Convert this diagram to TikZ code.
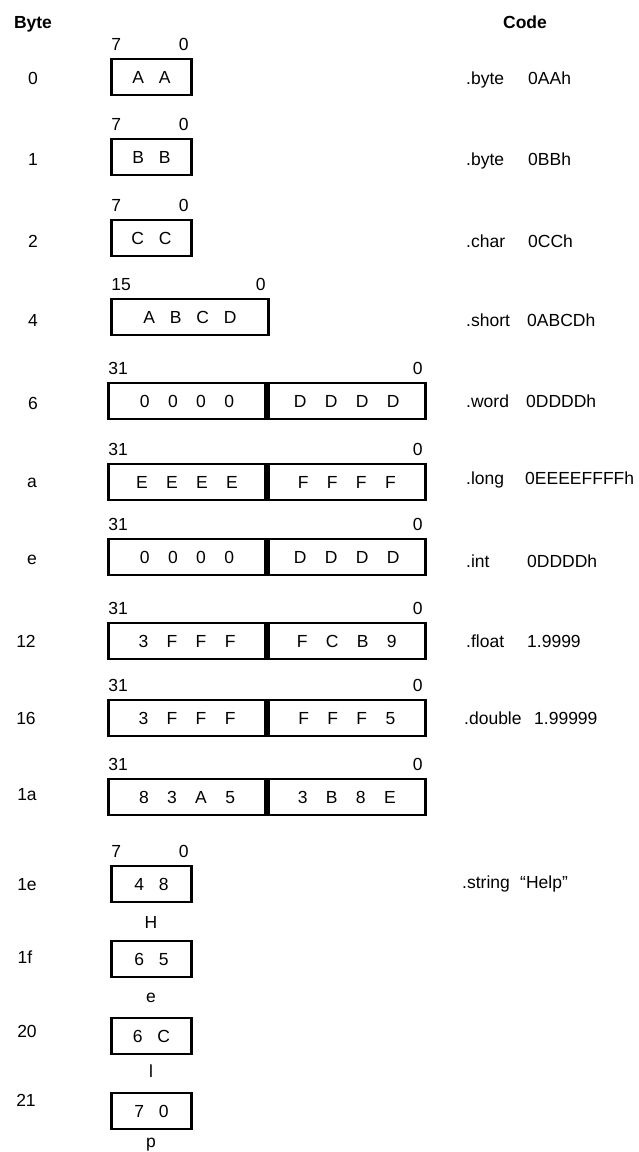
\documentclass[tikz,border=0pt]{standalone}
\usepackage{fontspec}
\setmainfont{Liberation Sans}
\usetikzlibrary{positioning}
\newcommand\hexgap{\hspace{0.85em}}
\newcommand\widegap{\hspace{1.05em}}
\tikzset{
	txt/.style={inner sep=0pt, text height=12.5pt, text depth=0pt,
			font=\fontsize{17.5}{20}\selectfont},
	cell/.style={txt, draw, line width=2.8pt, minimum height=36pt},
	bytecell/.style={cell, minimum width=80pt},
	shortcell/.style={cell, minimum width=157pt},
	halfcell/.style={cell, minimum width=157pt},
	hibit/.style={txt, anchor=south west, xshift=1pt, yshift=6.5pt},
	lobit/.style={txt, anchor=south east, xshift=-4pt, yshift=6.5pt},
	addr/.style={txt},
	dir/.style={txt, anchor=west},
	charlbl/.style={txt, anchor=base},
}

\begin{document}
\begin{tikzpicture}[x=1pt, y=-1pt]
		\useasboundingbox (0,0) rectangle (639,1152);
		\node[txt, font=\fontsize{17.5}{20}\selectfont\bfseries] (bytehead) at (33,22) {Byte};
		\node[txt, font=\fontsize{17.5}{20}\selectfont\bfseries] (codehead) at (525,22) {Code};

		\node[bytecell] (b0) at (151.5,77) {A\hexgap A};
		\node[hibit] (b0hi) at (b0.north west) {7};
		\node[lobit] (b0lo) at (b0.north east) {0};
		\node[addr] (a0) at (33,78) {0};
		\node[dir] (d0) at (466,78) {.byte};
		\node[dir] (v0) at (528,78) {0AAh};

		\node[bytecell] (b1) at (151.5,157) {B\hexgap B};
		\node[hibit] (b1hi) at (b1.north west) {7};
		\node[lobit] (b1lo) at (b1.north east) {0};
		\node[addr] (a1) at (33,159) {1};
		\node[dir] (d1) at (466,159) {.byte};
		\node[dir] (v1) at (528,159) {0BBh};

		\node[bytecell] (b2) at (151.5,238) {C\hexgap C};
		\node[hibit] (b2hi) at (b2.north west) {7};
		\node[lobit] (b2lo) at (b2.north east) {0};
		\node[addr] (a2) at (33,241) {2};
		\node[dir] (d2) at (466,241) {.char};
		\node[dir] (v2) at (528,241) {0CCh};

		\node[shortcell] (b4) at (190,317) {A\hexgap B\hexgap C\hexgap D};
		\node[hibit] (b4hi) at (b4.north west) {15};
		\node[lobit] (b4lo) at (b4.north east) {0};
		\node[addr] (a4) at (33,320) {4};
		\node[dir] (d4) at (466,320) {.short};
		\node[dir] (v4) at (527,320) {0ABCDh};

		\node[halfcell] (w6l) at (187,401) {0\widegap 0\widegap 0\widegap 0};
		\node[halfcell, anchor=west] (w6r) at (w6l.east) {D\widegap D\widegap D\widegap D};
		\node[hibit] (w6hi) at (w6l.north west) {31};
		\node[lobit] (w6lo) at (w6r.north east) {0};
		\node[addr] (a6) at (33,403) {6};
		\node[dir] (d6) at (466,401) {.word};
		\node[dir] (v6) at (526,401) {0DDDDh};

		\node[halfcell] (wal) at (187,482) {E\widegap E\widegap E\widegap E};
		\node[halfcell, anchor=west] (war) at (wal.east) {F\widegap F\widegap F\widegap F};
		\node[hibit] (wahi) at (wal.north west) {31};
		\node[lobit] (walo) at (war.north east) {0};
		\node[addr] (aa) at (32,481) {a};
		\node[dir] (da) at (466,478) {.long};
		\node[dir] (va) at (525,478) {0EEEEFFFFh};

		\node[halfcell] (wel) at (187,557) {0\widegap 0\widegap 0\widegap 0};
		\node[halfcell, anchor=west] (wer) at (wel.east) {D\widegap D\widegap D\widegap D};
		\node[hibit] (wehi) at (wel.north west) {31};
		\node[lobit] (welo) at (wer.north east) {0};
		\node[addr] (ae) at (32,558) {e};
		\node[dir] (de) at (466,561) {.int};
		\node[dir] (ve) at (527,561) {0DDDDh};

		\node[halfcell] (w12l) at (187,641) {3\widegap F\widegap F\widegap F};
		\node[halfcell, anchor=west] (w12r) at (w12l.east) {F\widegap C\widegap B\widegap 9};
		\node[hibit] (w12hi) at (w12l.north west) {31};
		\node[lobit] (w12lo) at (w12r.north east) {0};
		\node[addr] (a12) at (26,641) {12};
		\node[dir] (d12) at (466,641) {.float};
		\node[dir] (v12) at (527,641) {1.9999};

		\node[halfcell] (w16l) at (187,718) {3\widegap F\widegap F\widegap F};
		\node[halfcell, anchor=west] (w16r) at (w16l.east) {F\widegap F\widegap F\widegap 5};
		\node[hibit] (w16hi) at (w16l.north west) {31};
		\node[lobit] (w16lo) at (w16r.north east) {0};
		\node[addr] (a16) at (26,718) {16};
		\node[dir] (d16) at (464,718) {.double};
		\node[dir] (v16) at (534,718) {1.99999};

		\node[halfcell] (w1al) at (187,797) {8\widegap 3\widegap A\widegap 5};
		\node[halfcell, anchor=west] (w1ar) at (w1al.east) {3\widegap B\widegap 8\widegap E};
		\node[hibit] (w1ahi) at (w1al.north west) {31};
		\node[lobit] (w1alo) at (w1ar.north east) {0};
		\node[addr] (a1a) at (27,794) {1a};

		\node[bytecell] (s1e) at (151.5,884) {4\hexgap 8};
		\node[hibit] (s1ehi) at (s1e.north west) {7};
		\node[lobit] (s1elo) at (s1e.north east) {0};
		\node[charlbl] (c1e) at (151,928) {H};
		\node[addr] (a1e) at (27,884) {1e};
		\node[dir] (d1e) at (462,882) {.string};
		\node[dir] (v1e) at (520,882) {“Help”};

		\node[bytecell] (s1f) at (151.5,959) {6\hexgap 5};
		\node[charlbl] (c1f) at (151,1002) {e};
		\node[addr] (a1f) at (25,957) {1f};

		\node[bytecell] (s20) at (151.5,1036) {6\hexgap C};
		\node[charlbl] (c20) at (151,1077) {l};
		\node[addr] (a20) at (27,1031) {20};

		\node[bytecell] (s21) at (151.5,1111) {7\hexgap 0};
		\node[charlbl] (c21) at (151,1147) {p};
		\node[addr] (a21) at (26,1100) {21};
	\end{tikzpicture}
\end{document}
